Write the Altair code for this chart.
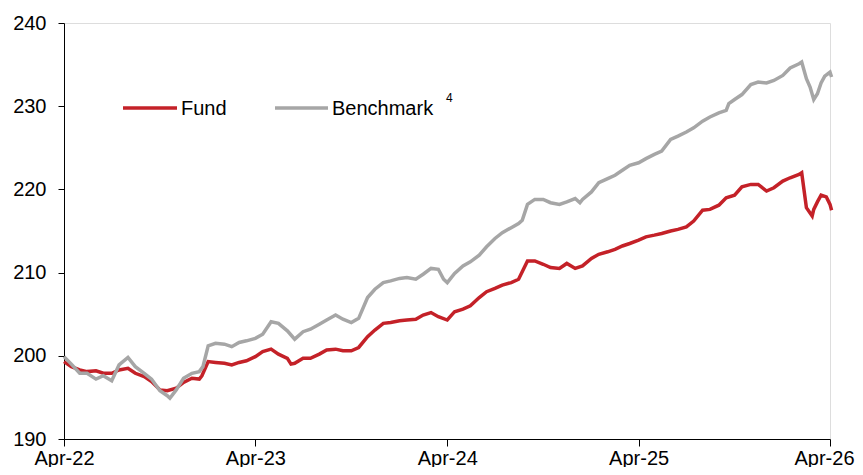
import altair as alt
import pandas as pd

# ---- data (index level, semi-monthly) ----
fund_dates = [
    "2022-04-01", "2022-04-15", "2022-05-01", "2022-05-15", "2022-06-01", "2022-06-15",
    "2022-07-01", "2022-07-15", "2022-08-01", "2022-08-15", "2022-09-01", "2022-09-15",
    "2022-10-01", "2022-10-15", "2022-11-01", "2022-11-15", "2022-12-01", "2022-12-15",
    "2022-12-20", "2023-01-01", "2023-01-15", "2023-02-01", "2023-02-15", "2023-03-01",
    "2023-03-15", "2023-04-01", "2023-04-15", "2023-05-01", "2023-05-15", "2023-06-01",
    "2023-06-08", "2023-06-15", "2023-07-01", "2023-07-15", "2023-08-01", "2023-08-15",
    "2023-09-01", "2023-09-15", "2023-10-01", "2023-10-15", "2023-11-01", "2023-11-15",
    "2023-12-01", "2023-12-15", "2024-01-01", "2024-01-15", "2024-02-01", "2024-02-15",
    "2024-03-01", "2024-03-15", "2024-04-01", "2024-04-15", "2024-05-01", "2024-05-15",
    "2024-06-01", "2024-06-15", "2024-07-01", "2024-07-15", "2024-08-01", "2024-08-15",
    "2024-09-01", "2024-09-15", "2024-10-01", "2024-10-15", "2024-11-01", "2024-11-15",
    "2024-12-01", "2024-12-15", "2025-01-01", "2025-01-15", "2025-02-01", "2025-02-15",
    "2025-03-01", "2025-03-15", "2025-04-01", "2025-04-15", "2025-05-01", "2025-05-15",
    "2025-06-01", "2025-06-15", "2025-07-01", "2025-07-15", "2025-08-01", "2025-08-15",
    "2025-09-01", "2025-09-15", "2025-10-01", "2025-10-15", "2025-11-01", "2025-11-15",
    "2025-12-01", "2025-12-15", "2026-01-01", "2026-01-15", "2026-02-01", "2026-02-06",
    "2026-02-15", "2026-02-26", "2026-03-01", "2026-03-08", "2026-03-15", "2026-03-25",
    "2026-04-01", "2026-04-04",
]
fund_values = [
    199.3, 198.7, 198.3, 198.1, 198.2, 197.9,
    197.9, 198.3, 198.5, 197.9, 197.5, 196.9,
    195.9, 195.8, 196.1, 196.8, 197.3, 197.2,
    197.6, 199.3, 199.2, 199.1, 198.9, 199.2,
    199.4, 199.9, 200.5, 200.8, 200.2, 199.7,
    199.0, 199.1, 199.7, 199.7, 200.2, 200.7,
    200.8, 200.6, 200.6, 201.0, 202.3, 203.1,
    203.9, 204.0, 204.2, 204.3, 204.4, 204.9,
    205.2, 204.7, 204.3, 205.3, 205.6, 206.0,
    207.0, 207.7, 208.1, 208.5, 208.8, 209.2,
    211.4, 211.4, 211.0, 210.6, 210.5, 211.1,
    210.5, 210.8, 211.7, 212.2, 212.5, 212.8,
    213.2, 213.5, 213.9, 214.3, 214.5, 214.7,
    215.0, 215.2, 215.5, 216.2, 217.5, 217.6,
    218.1, 219.0, 219.3, 220.3, 220.6, 220.6,
    219.8, 220.2, 221.0, 221.4, 221.8, 222.0,
    217.8, 216.8, 217.6, 218.5, 219.3, 219.1,
    218.2, 217.5,
]

bench_dates = [
    "2022-04-01", "2022-04-15", "2022-05-01", "2022-05-15", "2022-06-01", "2022-06-15",
    "2022-07-01", "2022-07-15", "2022-08-01", "2022-08-15", "2022-09-01", "2022-09-15",
    "2022-10-01", "2022-10-15", "2022-10-20", "2022-11-01", "2022-11-15", "2022-12-01",
    "2022-12-15", "2022-12-22", "2023-01-01", "2023-01-15", "2023-02-01", "2023-02-15",
    "2023-03-01", "2023-03-15", "2023-04-01", "2023-04-15", "2023-05-01", "2023-05-15",
    "2023-06-01", "2023-06-15", "2023-07-01", "2023-07-15", "2023-08-01", "2023-08-15",
    "2023-09-01", "2023-09-15", "2023-10-01", "2023-10-15", "2023-11-01", "2023-11-15",
    "2023-12-01", "2023-12-15", "2024-01-01", "2024-01-15", "2024-02-01", "2024-02-15",
    "2024-03-01", "2024-03-15", "2024-03-25", "2024-04-01", "2024-04-15", "2024-05-01",
    "2024-05-15", "2024-06-01", "2024-06-15", "2024-07-01", "2024-07-15", "2024-08-01",
    "2024-08-15", "2024-08-22", "2024-09-01", "2024-09-15", "2024-10-01", "2024-10-15",
    "2024-11-01", "2024-11-15", "2024-12-01", "2024-12-10", "2024-12-15", "2025-01-01",
    "2025-01-15", "2025-02-01", "2025-02-15", "2025-03-01", "2025-03-15", "2025-04-01",
    "2025-04-15", "2025-05-01", "2025-05-15", "2025-06-01", "2025-06-15", "2025-07-01",
    "2025-07-15", "2025-08-01", "2025-08-15", "2025-09-01", "2025-09-15", "2025-09-20",
    "2025-10-01", "2025-10-15", "2025-11-01", "2025-11-15", "2025-12-01", "2025-12-15",
    "2026-01-01", "2026-01-15", "2026-02-01", "2026-02-06", "2026-02-15", "2026-02-22",
    "2026-03-01", "2026-03-08", "2026-03-15", "2026-03-22", "2026-04-01", "2026-04-04",
]
bench_values = [
    199.9, 199.0, 197.9, 197.9, 197.2, 197.6,
    197.0, 198.9, 199.8, 198.7, 197.9, 197.2,
    195.8, 195.2, 194.9, 195.9, 197.3, 197.9,
    198.1, 198.7, 201.2, 201.5, 201.4, 201.1,
    201.6, 201.8, 202.1, 202.6, 204.1, 203.9,
    203.0, 202.0, 202.9, 203.2, 203.8, 204.3,
    204.9, 204.4, 204.0, 204.5, 207.0, 208.0,
    208.8, 209.0, 209.3, 209.4, 209.2, 209.8,
    210.5, 210.4, 209.2, 208.8, 209.9, 210.8,
    211.3, 212.1, 213.1, 214.1, 214.8, 215.4,
    215.9, 216.3, 218.2, 218.8, 218.8, 218.4,
    218.2, 218.5, 218.9, 218.4, 218.8, 219.7,
    220.8, 221.3, 221.7, 222.3, 222.9, 223.2,
    223.7, 224.2, 224.6, 226.0, 226.4, 226.9,
    227.4, 228.2, 228.7, 229.2, 229.5, 230.3,
    230.8, 231.4, 232.6, 232.9, 232.8, 233.1,
    233.7, 234.6, 235.1, 235.3, 233.3, 232.3,
    230.8, 231.5, 232.8, 233.6, 234.1, 233.5,
]

y_ticks = [190, 200, 210, 220, 230, 240]
x_tick_years = [2022, 2023, 2024, 2025, 2026]

FONT = "Liberation Sans"
RED = "#C42128"
GREY = "#A6A6A6"

fund_df = pd.DataFrame({"date": fund_dates, "value": fund_values})
bench_df = pd.DataFrame({"date": bench_dates, "value": bench_values})

x_enc = alt.X(
    "date:T",
    scale=alt.Scale(type="utc", domain=[alt.DateTime(year=2022, month=4, date=1, utc=True),
                                        alt.DateTime(year=2026, month=4, date=1, utc=True)]),
    axis=alt.Axis(
        values=[alt.DateTime(year=y, month=4, date=1, utc=True) for y in x_tick_years],
        labelExpr="utcFormat(datum.value, '%b-%y')",
        title=None, grid=False, labelFontSize=20, labelFont=FONT, labelColor="black",
        domainColor="black", tickColor="black", tickSize=7, labelPadding=2,
        labelOverlap=False, labelFlush=False,
        labelAlign={"condition": {"test": "year(datum.value) == 2026", "value": "right"},
                    "value": "center"},
        labelOffset={"condition": {"test": "year(datum.value) == 2026", "value": 24},
                     "value": 0},
        labelBaseline="top",
    ),
)
y_enc = alt.Y(
    "value:Q",
    scale=alt.Scale(domain=[190, 240], nice=False, zero=False),
    axis=alt.Axis(
        values=y_ticks, title=None, grid=False, labelFontSize=20, labelFont=FONT,
        labelColor="black", domainColor="black", tickColor="black", tickSize=6,
        labelPadding=12,
    ),
)

fund_line = alt.Chart(fund_df).mark_line(color=RED, strokeWidth=3.5, clip=False).encode(x=x_enc, y=y_enc)
bench_line = alt.Chart(bench_df).mark_line(color=GREY, strokeWidth=3.5, clip=False).encode(x=x_enc, y=y_enc)

leg_fund = alt.Chart().mark_rule(color=RED, strokeWidth=3.5).encode(
    x=alt.value(59), x2=alt.value(113), y=alt.value(85))
leg_bench = alt.Chart().mark_rule(color=GREY, strokeWidth=3.5).encode(
    x=alt.value(211), x2=alt.value(264), y=alt.value(85))
txt_fund = alt.Chart().mark_text(text="Fund", align="left", baseline="middle",
                                 font=FONT, fontSize=20, color="black").encode(
    x=alt.value(117), y=alt.value(86))
txt_bench = alt.Chart().mark_text(text="Benchmark", align="left", baseline="middle",
                                  font=FONT, fontSize=20, color="black").encode(
    x=alt.value(268), y=alt.value(86))
txt_sup = alt.Chart().mark_text(text="4", align="left", baseline="middle",
                                font=FONT, fontSize=12, color="black").encode(
    x=alt.value(382), y=alt.value(75))

chart = alt.layer(fund_line, bench_line, leg_fund, leg_bench, txt_fund, txt_bench, txt_sup).properties(
    width=766, height=416,
    autosize=alt.AutoSizeParams(type="none"),
    padding={"left": 56, "top": 15, "right": 25, "bottom": 28},
).configure_view(stroke=None).configure(background="white")

chart.save("out.html", embed_options={"renderer": "svg", "actions": False})
